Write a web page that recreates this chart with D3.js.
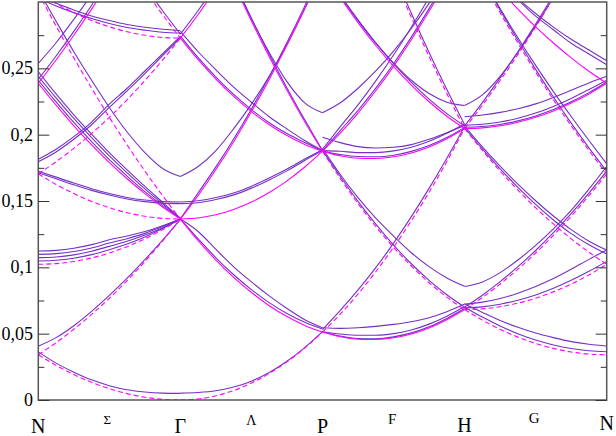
<!DOCTYPE html>
<html><head><meta charset="utf-8">
<script src="https://cdn.jsdelivr.net/npm/d3@7"></script>
<style>html,body{margin:0;padding:0;background:#fff;}</style>
</head><body>
<svg id="chart" width="616" height="436"></svg>
<script>
// k-path labels and positions (path coordinate 0..4)
const kLabels = ["N","Σ","Γ","Λ","P","F","H","G","N"];
const kLabelPos = [0, 0.485, 1, 1.5, 2, 2.49, 3, 3.49, 4];
const kLabelSize = [20, 13, 20, 14, 20, 15, 20, 15, 20];
const kLabelBase = [433, 424, 433, 425, 433, 424, 432, 423, 430];
const yTickVals = [0, 0.05, 0.1, 0.15, 0.2, 0.25];
const yTickText = ["0", "0,05", "0,1", "0,15", "0,2", "0,25"];
const yMinorVals = [0.025, 0.075, 0.125, 0.175, 0.225, 0.275];
const sampleT = [0, 0.125, 0.25, 0.375, 0.5, 0.625, 0.75, 0.875, 1];

// dashed (magenta) series, per segment
const magentaNG = [
 [.0341,.0261,.0192,.0133,.0085,.0048,.0021,.0005,0],
 [.0341,.0432,.0533,.0645,.0767,.0900,.1044,.1199,.1364],
 [.3069,.2819,.2579,.2350,.2131,.1923,.1726,.1540,.1364],
 [.1705,.1625,.1556,.1497,.1449,.1412,.1385,.1369,.1364],
 [.2387,.2222,.2067,.1923,.1790,.1668,.1556,.1455,.1364],
 [.1023,.1028,.1044,.1071,.1108,.1156,.1215,.1284,.1364],
 [.4433,.4183,.3943,.3714,.3495,.3287,.3090,.2904,.2728],
 [.1705,.1796,.1897,.2009,.2131,.2264,.2408,.2563,.2728],
 [.3069,.2989,.2920,.2861,.2813,.2776,.2749,.2733,.2728],
 [.2387,.2563,.2749,.2946,.3154,.3373,.3602,.3842,.4092]];
const magentaNGSolid = [0,0,0,0,1,0,0,0,0,1];
const magentaGP = [
 [0,.0008,.0032,.0072,.0128,.0200,.0288,.0392,.0512],
 [.1364,.1542,.1737,.1947,.2174,.2416,.2675,.2949,.3240],
 [.1364,.1201,.1055,.0924,.0810,.0711,.0629,.0562,.0512],
 [.1364,.1372,.1396,.1436,.1492,.1564,.1652,.1756,.1876],
 [.2728,.2906,.3101,.3311,.3538,.3780,.4039,.4313,.4604],
 [.2728,.2565,.2419,.2288,.2174,.2075,.1993,.1926,.1876],
 [.4092,.3759,.3442,.3141,.2856,.2587,.2334,.2097,.1876]];
const magentaGPSolid = [0,1,1,1,1,1,1];
const magentaPH = [
 [.0512,.0477,.0458,.0456,.0469,.0498,.0543,.0605,.0682],
 [.0512,.0647,.0799,.0967,.1151,.1351,.1566,.1798,.2046],
 [.1876,.1670,.1481,.1308,.1151,.1010,.0884,.0775,.0682],
 [.1876,.1841,.1822,.1820,.1833,.1862,.1907,.1969,.2046],
 [.1876,.2011,.2163,.2331,.2515,.2715,.2930,.3162,.3410],
 [.3240,.3034,.2845,.2672,.2515,.2374,.2248,.2139,.2046],
 [.4604,.4228,.3868,.3525,.3197,.2885,.2589,.2310,.2046]];
const magentaPHSolid = [1,0,0,1,1,1,0];
const magentaHN = [
 [.0682,.0602,.0533,.0474,.0426,.0389,.0362,.0346,.0341],
 [.0682,.0773,.0874,.0986,.1108,.1241,.1385,.1540,.1705],
 [.0682,.0687,.0703,.0730,.0767,.0815,.0874,.0943,.1023],
 [.2046,.2051,.2067,.2094,.2131,.2179,.2238,.2307,.2387],
 [.2046,.1881,.1726,.1582,.1449,.1327,.1215,.1114,.1023],
 [.2046,.2222,.2408,.2605,.2813,.3032,.3260,.3500,.3751],
 [.3410,.3160,.2920,.2691,.2472,.2264,.2067,.1881,.1705],
 [.3410,.3245,.3090,.2946,.2813,.2691,.2579,.2478,.2387]];
const magentaHNSolid = [0,0,0,1,0,0,0,1];

// solid (purple) series, per segment
const purpleNG = [
 [.0363,.0278,.0210,.0152,.0108,.0077,.0060,.0052,.0050],
 [.0406,.0470,.0560,.0668,.0788,.0918,.1058,.1205,.1362],
 [.1123,.1128,.1144,.1171,.1208,.1236,.1270,.1314,.1364],
 [.1098,.1103,.1119,.1146,.1183,.1216,.1256,.1307,.1364],
 [.1073,.1078,.1094,.1121,.1158,.1196,.1243,.1299,.1364],
 [.1048,.1053,.1069,.1096,.1133,.1176,.1229,.1292,.1364],
 [.1713,.1668,.1622,.1580,.1545,.1515,.1495,.1483,.1480],
 [.1725,.1680,.1635,.1593,.1557,.1527,.1507,.1495,.1492],
 [.2410,.2247,.2092,.1948,.1812,.1688,.1571,.1465,.1367],
 [.2440,.2277,.2122,.1978,.1840,.1712,.1592,.1478,.1368],
 [.2474,.2307,.2150,.2004,.1864,.1734,.1610,.1490,.1370],
 [.3090,.2855,.2625,.2410,.2205,.2020,.1865,.1745,.1685],
 [.1814,.1890,.1985,.2095,.2230,.2350,.2480,.2610,.2740],
 [.1796,.1870,.1965,.2075,.2205,.2330,.2460,.2595,.2730],
 [.3050,.2990,.2940,.2895,.2860,.2830,.2810,.2795,.2785],
 [.3030,.2970,.2920,.2875,.2838,.2808,.2788,.2772,.2765],
 [.2537,.2693,.2869,.3056,.3254,.3473,.3702,.3942,.4192],
 [.2417,.2593,.2779,.2976,.3184,.3403,.3632,.3872,.4122],
 [.4463,.4213,.3973,.3744,.3525,.3317,.3120,.2934,.2758]];
const purpleGP = [
 [.0052,.0057,.0070,.0098,.0142,.0208,.0292,.0395,.0515],
 [.1364,.1215,.1072,.0944,.0832,.0734,.0652,.0586,.0535],
 [.1364,.1270,.1135,.1004,.0890,.0785,.0690,.0605,.0545],
 [.1492,.1502,.1526,.1561,.1612,.1674,.1742,.1816,.1886],
 [.1480,.1487,.1511,.1546,.1597,.1659,.1727,.1806,.1880],
 [.1685,.1760,.1880,.2045,.2230,.2440,.2680,.2950,.3245],
 [.1366,.1562,.1757,.1967,.2194,.2436,.2695,.2969,.3260],
 [.2778,.2625,.2489,.2358,.2244,.2135,.2043,.1956,.1880],
 [.2743,.2580,.2434,.2303,.2189,.2090,.2008,.1941,.1878],
 [.4102,.3769,.3452,.3155,.2875,.2620,.2400,.2240,.2165],
 [.4112,.3779,.3462,.3161,.2876,.2606,.2352,.2112,.1880],
 [.2758,.2936,.3131,.3341,.3568,.3810,.4069,.4343,.4634]];
const purplePH = [
 [.0515,.0482,.0464,.0462,.0476,.0506,.0552,.0615,.0690],
 [.0545,.0540,.0545,.0555,.0570,.0590,.0620,.0665,.0723],
 [.0515,.0498,.0488,.0488,.0500,.0528,.0572,.0632,.0705],
 [.0530,.0675,.0830,.0998,.1182,.1382,.1595,.1822,.2060],
 [.1895,.1700,.1525,.1370,.1235,.1110,.1005,.0920,.0858],
 [.1878,.1685,.1497,.1325,.1168,.1027,.0902,.0793,.0700],
 [.1880,.1875,.1865,.1865,.1878,.1905,.1950,.2010,.2080],
 [.1876,.1850,.1835,.1833,.1845,.1874,.1918,.1978,.2055],
 [.1980,.1940,.1910,.1900,.1905,.1925,.1965,.2015,.2070],
 [.2165,.2240,.2350,.2480,.2630,.2800,.2990,.3200,.3430],
 [.1878,.2031,.2183,.2351,.2535,.2735,.2950,.3182,.3430],
 [.1890,.2060,.2225,.2405,.2600,.2810,.3035,.3275,.3530],
 [.3250,.3045,.2860,.2690,.2540,.2410,.2310,.2245,.2220],
 [.3260,.3054,.2865,.2692,.2535,.2394,.2268,.2159,.2066],
 [.4634,.4258,.3898,.3555,.3227,.2915,.2619,.2340,.2076]];
const purpleHN = [
 [.0723,.0660,.0600,.0548,.0505,.0470,.0440,.0420,.0407],
 [.0700,.0625,.0558,.0500,.0452,.0415,.0388,.0371,.0364],
 [.0723,.0738,.0765,.0805,.0855,.0915,.0985,.1060,.1130],
 [.0695,.0702,.0722,.0752,.0792,.0842,.0902,.0970,.1045],
 [.2062,.1908,.1763,.1627,.1502,.1387,.1284,.1197,.1130],
 [.2052,.1893,.1743,.1603,.1474,.1357,.1254,.1170,.1100],
 [.0855,.0890,.0960,.1055,.1165,.1290,.1430,.1590,.1760],
 [.0700,.0790,.0892,.1005,.1127,.1261,.1405,.1560,.1725],
 [.2135,.2148,.2168,.2195,.2232,.2280,.2335,.2390,.2440],
 [.2070,.2078,.2095,.2124,.2163,.2213,.2273,.2340,.2410],
 [.2056,.2061,.2077,.2104,.2141,.2189,.2248,.2317,.2397],
 [.3430,.3285,.3150,.3026,.2913,.2811,.2719,.2638,.2557],
 [.3430,.3275,.3140,.3016,.2893,.2791,.2689,.2608,.2527],
 [.2220,.2300,.2440,.2620,.2820,.3035,.3260,.3500,.3751],
 [.2066,.2242,.2428,.2625,.2833,.3052,.3280,.3520,.3771],
 [.3420,.3180,.2950,.2731,.2522,.2324,.2137,.1956,.1780],
 [.3430,.3180,.2940,.2711,.2492,.2284,.2087,.1901,.1725]];

const purpleSegs = [purpleNG, purpleGP, purplePH, purpleHN];
const magentaSegs = [magentaNG, magentaGP, magentaPH, magentaHN];
const magentaSolid = [magentaNGSolid, magentaGPSolid, magentaPHSolid, magentaHNSolid];

const PURPLE = "#7430c4", MAGENTA = "#ff00ff";
const FONT = "'Liberation Serif', 'Times New Roman', Times, 'Nimbus Roman', 'DejaVu Serif', serif";
const svg = d3.select("#chart");
const x = d3.scaleLinear().domain([0, 4]).range([38.3, 606.7]);
const y = d3.scaleLinear().domain([0, 0.3]).range([400, 2]);

svg.append("defs").append("clipPath").attr("id", "clip")
  .append("rect").attr("x", x(0)).attr("y", y(0.3)).attr("width", x(4) - x(0)).attr("height", y(0) - y(0.3));

const line = d3.line().x(d => x(d[0])).y(d => y(d[1])).curve(d3.curveMonotoneX);
const plot = svg.append("g").attr("clip-path", "url(#clip)");

function pts(seg, vals) { return vals.map((v, i) => [seg + sampleT[i], v]); }

purpleSegs.forEach((lines, s) => lines.forEach(vals => {
  plot.append("path").attr("d", line(pts(s, vals))).attr("fill", "none")
    .attr("stroke", PURPLE).attr("stroke-width", 1.1);
}));
magentaSegs.forEach((lines, s) => lines.forEach((vals, j) => {
  const p = plot.append("path").attr("d", line(pts(s, vals))).attr("fill", "none")
    .attr("stroke", MAGENTA).attr("stroke-width", 1.1);
  if (!magentaSolid[s][j]) p.attr("stroke-dasharray", "5,3");
}));

// frame
svg.append("rect").attr("x", x(0)).attr("y", y(0.3)).attr("width", x(4) - x(0)).attr("height", y(0) - y(0.3))
  .attr("fill", "none").attr("stroke", "#555").attr("stroke-width", 1.5);

// ticks
const yAxisL = d3.axisRight(y).tickValues(yTickVals).tickSize(11).tickFormat("");
const yAxisR = d3.axisLeft(y).tickValues(yTickVals).tickSize(11).tickFormat("");
const yMinL = d3.axisRight(y).tickValues(yMinorVals).tickSize(6).tickFormat("");
const yMinR = d3.axisLeft(y).tickValues(yMinorVals).tickSize(6).tickFormat("");
[[yAxisL, x(0)], [yMinL, x(0)], [yAxisR, x(4)], [yMinR, x(4)]].forEach(([ax, px]) => {
  const g = svg.append("g").attr("transform", `translate(${px},0)`).call(ax);
  g.select(".domain").remove();
  g.selectAll("line").attr("stroke", "#333").attr("stroke-width", 1);
});

// tick labels
svg.append("g").selectAll("text").data(yTickVals).join("text")
  .attr("x", 33).attr("y", d => y(d) + 6).attr("text-anchor", "end")
  .attr("font-family", FONT).attr("font-size", 18)
  .attr("fill", "#000").text((d, i) => yTickText[i]);

// k-point labels
svg.append("g").selectAll("text").data(kLabels).join("text")
  .attr("x", (d, i) => x(kLabelPos[i])).attr("y", (d, i) => kLabelBase[i]).attr("text-anchor", "middle")
  .attr("font-family", FONT)
  .attr("font-size", (d, i) => kLabelSize[i]).attr("fill", "#000").text(d => d);
</script>
</body></html>
